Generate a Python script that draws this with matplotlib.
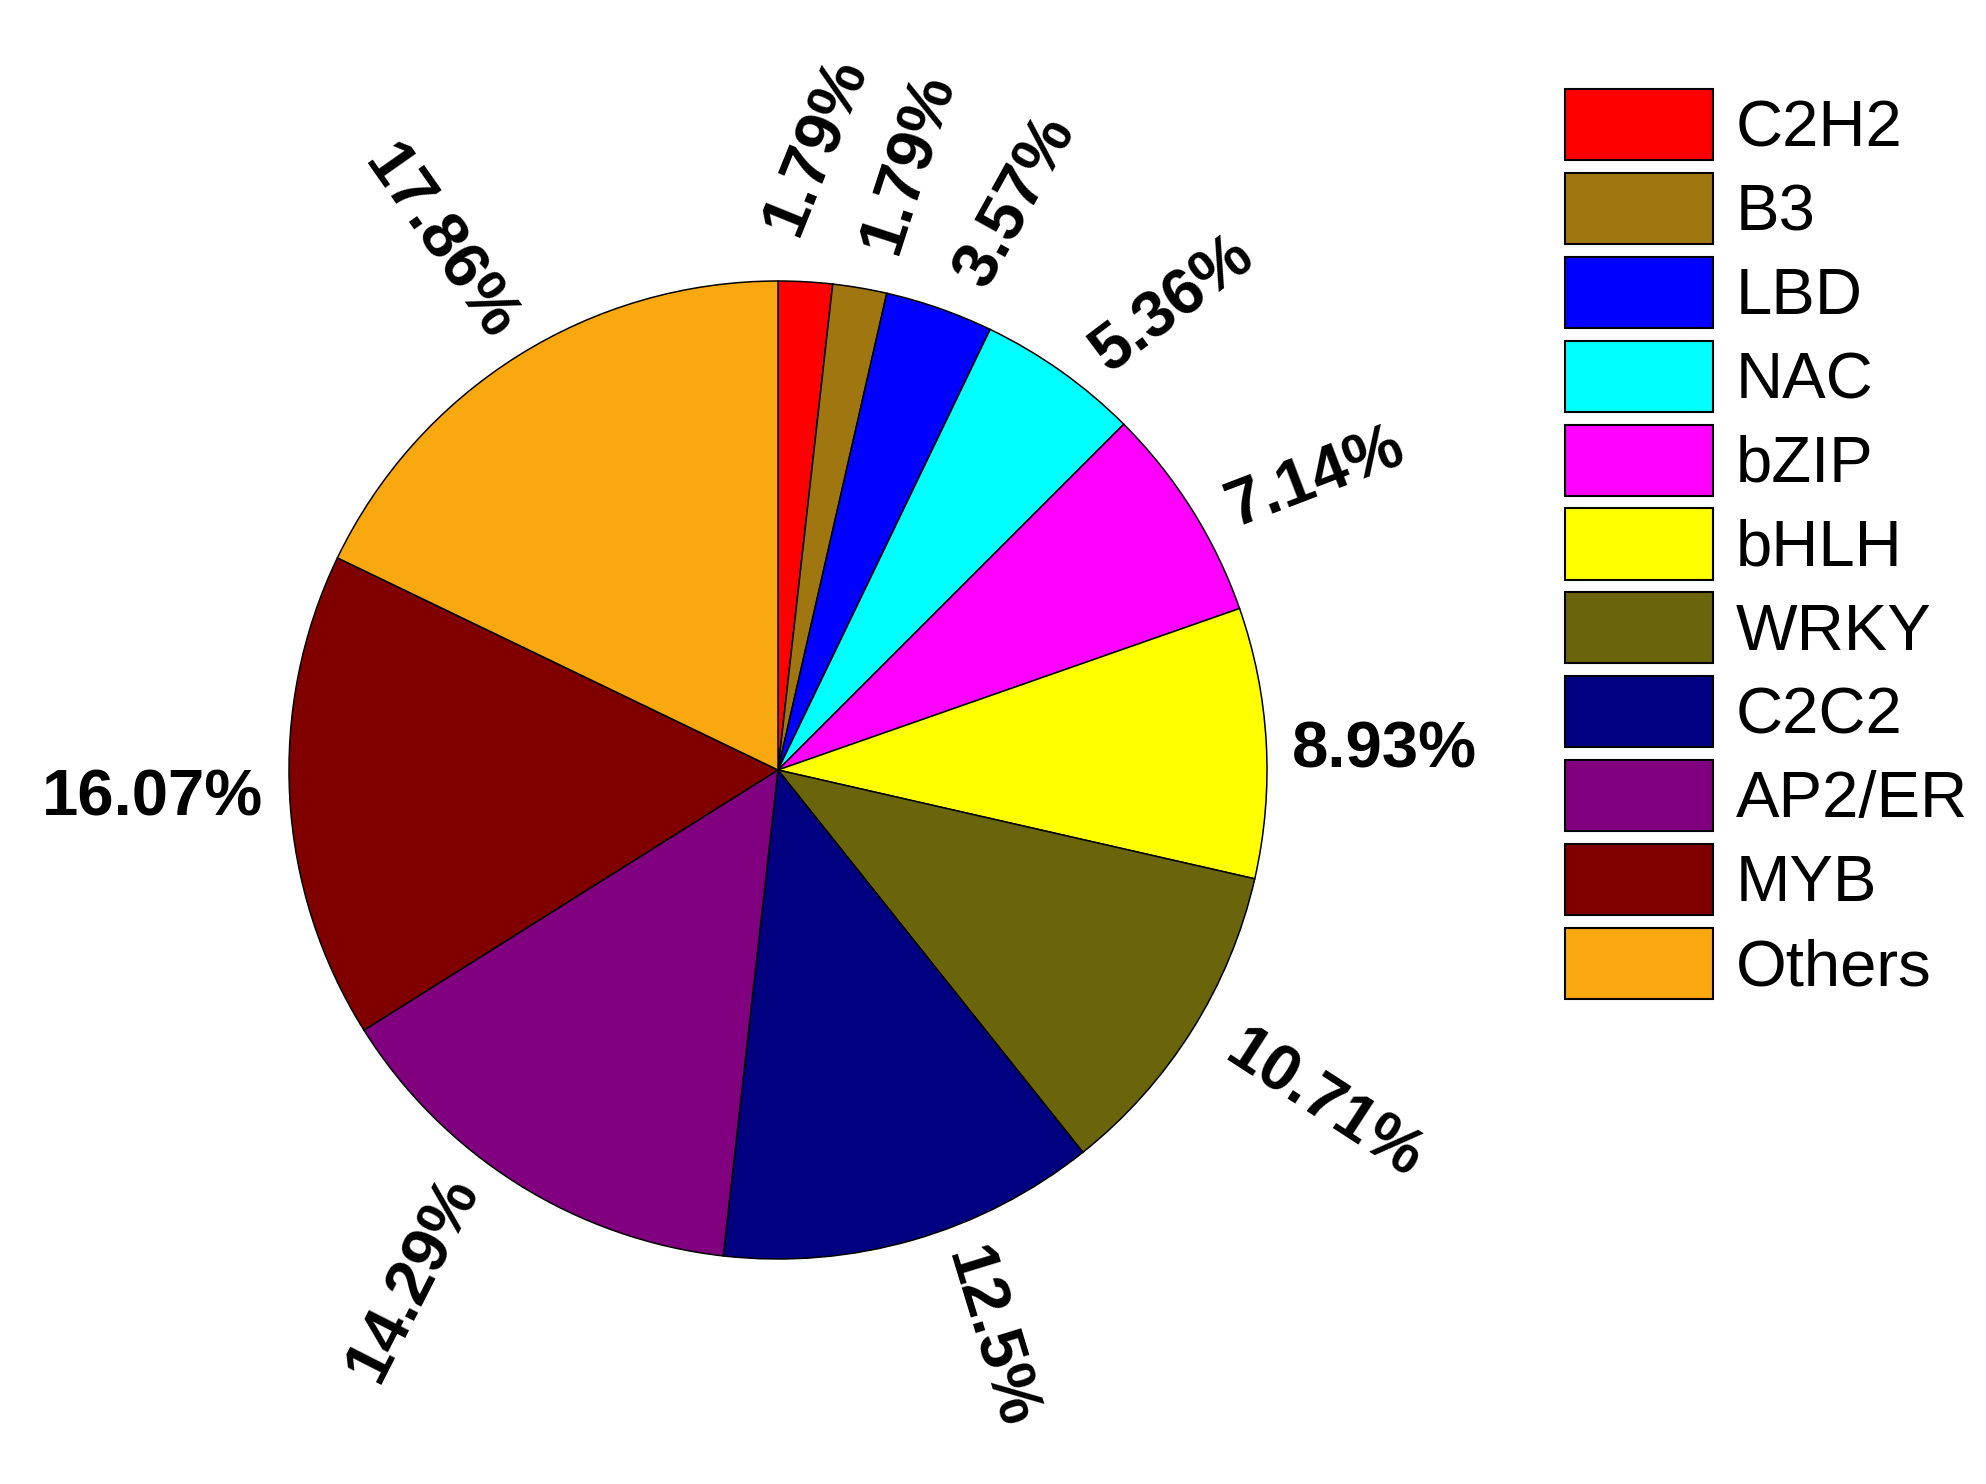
import numpy as np
import matplotlib
matplotlib.use('Agg')
import matplotlib.pyplot as plt
from matplotlib.patches import Patch

plt.rcParams['font.family'] = ['Liberation Sans', 'DejaVu Sans']

# transcription factor families and gene counts (56 genes total)
families = ['C2H2', 'B3', 'LBD', 'NAC', 'bZIP', 'bHLH', 'WRKY', 'C2C2', 'AP2/ER', 'MYB', 'Others']
counts = [1, 1, 2, 3, 4, 5, 6, 7, 8, 9, 10]
pct_labels = ['1.79%', '1.79%', '3.57%', '5.36%', '7.14%', '8.93%', '10.71%',
              '12.5%', '14.29%', '16.07%', '17.86%']
colors = ['#FF0000', '#9F7610', '#0000FF', '#00FFFF', '#FF00FF', '#FFFF00',
          '#6A640A', '#000080', '#800080', '#800000', '#F9A90F']

# label styling as in the original figure (rotation, angular nudge, distance in radii)
label_rot = [68, 72, 61, 37, 21, 0, -33, -73, 63, 0, -55]
label_shift = [-0.3, -2.5, -3.4, -5, -3.7, -1.4, 0.6, 4.4, -3.5, -0.6, 0.6]
label_dist = [1.28, 1.27, 1.26, 1.25, 1.25, 1.24, 1.31, 1.24, 1.28, 1.28, 1.28]

fig = plt.figure(figsize=(19.86, 14.84), dpi=100)

# pie centre at (778, 770) px, radius ~489 px
cx, cy, r = 778 / 1986, 1 - 770 / 1484, 489
w, h = r / 1986, r / 1484
ax = fig.add_axes([cx - w, cy - h, 2 * w, 2 * h])

wedges, _ = ax.pie(counts, colors=colors, startangle=90, counterclock=False,
                   wedgeprops=dict(edgecolor='black', linewidth=1.1))
ax.set_xlim(-1, 1)
ax.set_ylim(-1, 1)

# mid angle of each wedge (clockwise from 12 o'clock)
total = sum(counts)
cum = np.cumsum([0] + counts[:-1])
mids = 90 - 360 * (cum + np.array(counts) / 2) / total

for mid, lab, rot, sh, d in zip(mids, pct_labels, label_rot, label_shift, label_dist):
    ang = np.deg2rad(mid + sh)
    ax.text(d * np.cos(ang), d * np.sin(ang), lab, ha='center', va='center',
            rotation=rot, rotation_mode='anchor', fontsize=47, fontweight='bold',
            clip_on=False)

handles = [Patch(facecolor=c, edgecolor='black', linewidth=1.5) for c in colors]
fig.legend(handles, families, loc='upper left', bbox_to_anchor=(1565 / 1986, 1 - 89 / 1484),
           frameon=False, fontsize=47, handlelength=2.27, handleheight=1.30,
           labelspacing=0.195, handletextpad=0.35, borderpad=0, borderaxespad=0)

fig.savefig('out.png', dpi=100)
